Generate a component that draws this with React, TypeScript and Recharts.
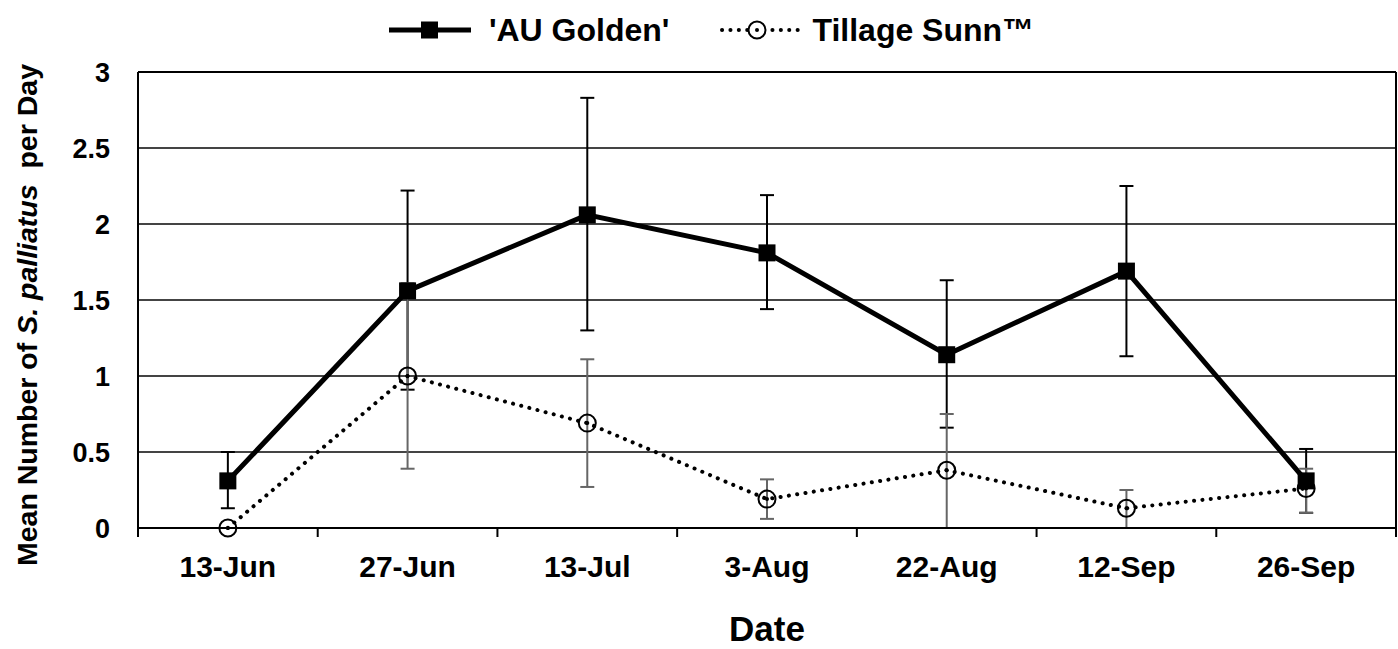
import React from 'react';
import { LineChart, Line, XAxis, YAxis, CartesianGrid, ErrorBar, Legend, ReferenceLine } from 'recharts';

const categories = ['13-Jun', '27-Jun', '13-Jul', '3-Aug', '22-Aug', '12-Sep', '26-Sep'];
const auGolden = [0.31, 1.56, 2.06, 1.81, 1.14, 1.69, 0.31];
const auLow = [0.13, 0.91, 1.30, 1.44, 0.66, 1.13, 0.10];
const auHigh = [0.50, 2.22, 2.83, 2.19, 1.63, 2.25, 0.52];
const tillage = [0, 1.0, 0.69, 0.19, 0.38, 0.13, 0.26];
const tillLow = [0, 0.39, 0.27, 0.06, 0, 0, 0.10];
const tillHigh = [0, 1.61, 1.11, 0.32, 0.75, 0.25, 0.39];
const yTicks = [0, 0.5, 1, 1.5, 2, 2.5, 3];

const FONT = '"Liberation Sans", Arial, sans-serif';

const data = categories.map((c, i) => ({
  x: i + 0.5,
  name: c,
  au: auGolden[i],
  auErr: [auGolden[i] - auLow[i], auHigh[i] - auGolden[i]],
  till: tillage[i],
  tillErr: [tillage[i] - tillLow[i], tillHigh[i] - tillage[i]],
}));

const xTicks: number[] = [];
categories.forEach((_, i) => {
  xTicks.push(i);
  xTicks.push(i + 0.5);
});
xTicks.push(categories.length);

const XTick = (props: any) => {
  const { x, y, payload } = props;
  const v = payload.value;
  if (Number.isInteger(v)) {
    return <line x1={x} x2={x} y1={y} y2={y + 9} stroke="#000" strokeWidth={2} />;
  }
  const label = categories[Math.floor(v)];
  return (
    <text x={x} y={y + 49} textAnchor="middle" fontFamily={FONT} fontWeight="bold" fontSize={30} fill="#000">
      {label}
    </text>
  );
};

const SquareDot = (props: any) => {
  const { cx, cy, index } = props;
  if (cx == null || cy == null) return <g key={`s${index}`} />;
  return <rect key={`s${index}`} x={cx - 8.5} y={cy - 8.5} width={17} height={17} fill="#000" />;
};

const CircleDot = (props: any) => {
  const { cx, cy, index } = props;
  if (cx == null || cy == null) return <g key={`c${index}`} />;
  return (
    <g key={`c${index}`}>
      <circle cx={cx} cy={cy} r={8.5} fill="none" stroke="#000" strokeWidth={2} />
      <circle cx={cx} cy={cy} r={2} fill="#000" />
    </g>
  );
};

const YLabel = (props: any) => {
  const { viewBox } = props;
  const cx = 27;
  const cy = viewBox.y + viewBox.height / 2 + 15;
  return (
    <text
      x={cx}
      y={cy}
      transform={`rotate(-90 ${cx} ${cy})`}
      textAnchor="middle"
      dominantBaseline="central"
      fontFamily={FONT}
      fontWeight="bold"
      fontSize={28.5}
      fill="#000"
    >
      Mean Number of <tspan fontStyle="italic">S. palliatus</tspan>
      {'\u00A0 per Day'}
    </text>
  );
};

const XLabel = (props: any) => {
  const { viewBox } = props;
  const cx = viewBox.x + viewBox.width / 2;
  return (
    <text x={cx} y={641} textAnchor="middle" fontFamily={FONT} fontWeight="bold" fontSize={35} fill="#000">
      Date
    </text>
  );
};

const LegendContent = () => (
  <div
    style={{
      display: 'flex',
      justifyContent: 'center',
      alignItems: 'center',
      height: 50,
      paddingLeft: 24,
      fontFamily: FONT,
      fontWeight: 'bold',
      fontSize: 32,
      color: '#000',
      lineHeight: '50px',
    }}
  >
    <svg width={84} height={30} style={{ display: 'block' }}>
      <line x1={1} x2={83} y1={15} y2={15} stroke="#000" strokeWidth={5} />
      <rect x={33} y={6.5} width={17} height={17} fill="#000" />
    </svg>
    <span style={{ marginLeft: 17 }}>'AU Golden'</span>
    <svg width={82} height={30} style={{ display: 'block', marginLeft: 50 }}>
      <line
        x1={3}
        x2={81}
        y1={15}
        y2={15}
        stroke="#000"
        strokeWidth={4}
        strokeDasharray="0.1 8.3"
        strokeLinecap="round"
      />
      <circle cx={38} cy={15} r={8.5} fill="#fff" stroke="#000" strokeWidth={2} />
      <circle cx={38} cy={15} r={2} fill="#000" />
    </svg>
    <span style={{ marginLeft: 11 }}>Tillage Sunn™</span>
  </div>
);

export default function App() {
  return (
    <div style={{ position: 'absolute', left: 0, top: 0, width: 1398, height: 649, background: '#fff' }}>
      <LineChart
        width={1398}
        height={649}
        data={data}
        margin={{ top: 22, right: 2, bottom: 61, left: 0 }}
      >
        <CartesianGrid horizontal vertical={false} stroke="#444" strokeWidth={2} />
        <XAxis
          dataKey="x"
          type="number"
          domain={[0, categories.length]}
          ticks={xTicks}
          interval={0}
          tick={<XTick />}
          tickLine={false}
          tickSize={0}
          tickMargin={0}
          height={60}
          axisLine={{ stroke: '#000', strokeWidth: 2 }}
          label={<XLabel />}
        />
        <YAxis
          type="number"
          domain={[0, 3]}
          ticks={yTicks}
          width={138}
          tickLine={false}
          tickSize={0}
          tickMargin={28}
          axisLine={{ stroke: '#000', strokeWidth: 2 }}
          tick={{ fill: '#000', fontFamily: FONT, fontWeight: 'bold', fontSize: 27 }}
          label={<YLabel />}
        />
        <ReferenceLine y={3} stroke="#000" strokeWidth={2} />
        <ReferenceLine x={categories.length} stroke="#000" strokeWidth={2} />
        <Legend verticalAlign="top" height={50} content={<LegendContent />} wrapperStyle={{ top: 5, left: 0, width: 1398 }} />
        <Line
          dataKey="au"
          name="'AU Golden'"
          stroke="#000"
          strokeWidth={5}
          dot={<SquareDot />}
          activeDot={false}
          isAnimationActive={false}
        >
          <ErrorBar dataKey="auErr" direction="y" width={7} stroke="#000" strokeWidth={2} />
        </Line>
        <Line
          dataKey="till"
          name="Tillage Sunn™"
          stroke="#000"
          strokeWidth={4}
          strokeDasharray="0.1 8.3"
          strokeLinecap="round"
          dot={<CircleDot />}
          activeDot={false}
          isAnimationActive={false}
        >
          <ErrorBar dataKey="tillErr" direction="y" width={7} stroke="#666" strokeWidth={2} />
        </Line>
      </LineChart>
    </div>
  );
}
